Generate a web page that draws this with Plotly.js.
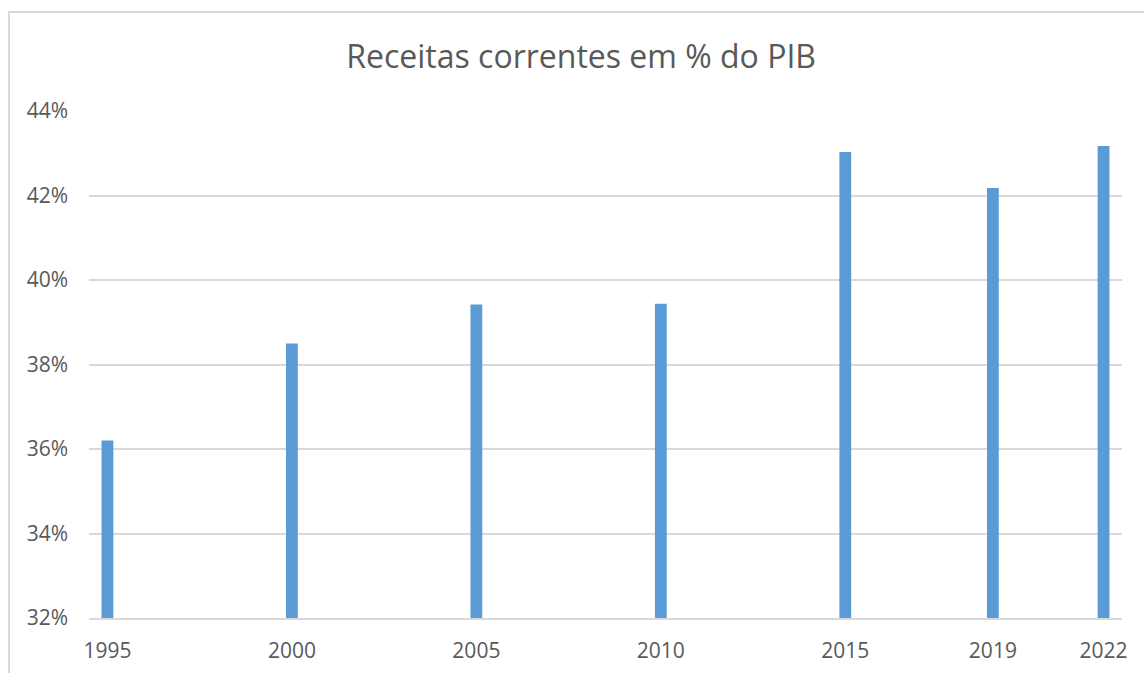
<!DOCTYPE html>
<html>
<head>
<meta charset="utf-8">
<script src="https://cdn.plot.ly/plotly-3.0.1.min.js"></script>
<style>
  body { margin: 0; background: #fff; }
  #wrap { position: relative; width: 1144px; height: 673px; overflow: hidden; }
  #frame {
    position: absolute; left: 8px; top: 11px; width: 1200px; height: 700px;
    border: 2px solid #d9d9d9; pointer-events: none;
  }
</style>
</head>
<body>
<div id="wrap">
  <div id="plot" style="width:1144px;height:673px;"></div>
  <div id="frame"></div>
</div>
<script>
const years = [1995, 2000, 2005, 2010, 2015, 2019, 2022];
const receitas = [36.2, 38.5, 39.42, 39.44, 43.03, 42.18, 43.17];
const yTicks = [32, 34, 36, 38, 40, 42, 44];
const yTickLabels = ["32%", "34%", "36%", "38%", "40%", "42%", "44%"];

const textColor = "#595959";

const trace = {
  type: "bar",
  x: years,
  y: receitas,
  width: 0.32,
  marker: { color: "#5b9bd5" },
  hoverinfo: "x+y",
};

const layout = {
  width: 1144,
  height: 673,
  margin: { l: 89, r: 22, t: 111, b: 55 },
  paper_bgcolor: "#fff",
  plot_bgcolor: "#fff",
  showlegend: false,
  font: { family: "Open Sans, sans-serif", color: textColor },
  title: {
    text: "Receitas correntes em % do PIB",
    font: { size: 32, color: textColor },
    x: 0.508,
    xanchor: "center",
    y: 0.915,
    yanchor: "middle",
  },
  xaxis: {
    range: [1994.5, 2022.5],
    tickmode: "array",
    tickvals: years,
    ticktext: years.map(String),
    showgrid: false,
    zeroline: false,
    showline: true,
    linecolor: "#d9d9d9",
    linewidth: 2,
    ticks: "",
    ticklabelstandoff: 13,
    tickfont: { size: 21, color: textColor },
  },
  yaxis: {
    range: [32, 44],
    tickmode: "array",
    tickvals: yTicks,
    ticktext: yTickLabels,
    showgrid: true,
    gridcolor: "#d9d9d9",
    gridwidth: 2,
    zeroline: false,
    showline: false,
    ticks: "",
    ticklabelstandoff: 20,
    tickfont: { size: 21, color: textColor },
  },
};

Plotly.newPlot("plot", [trace], layout, { displayModeBar: false, staticPlot: true });
</script>
</body>
</html>
